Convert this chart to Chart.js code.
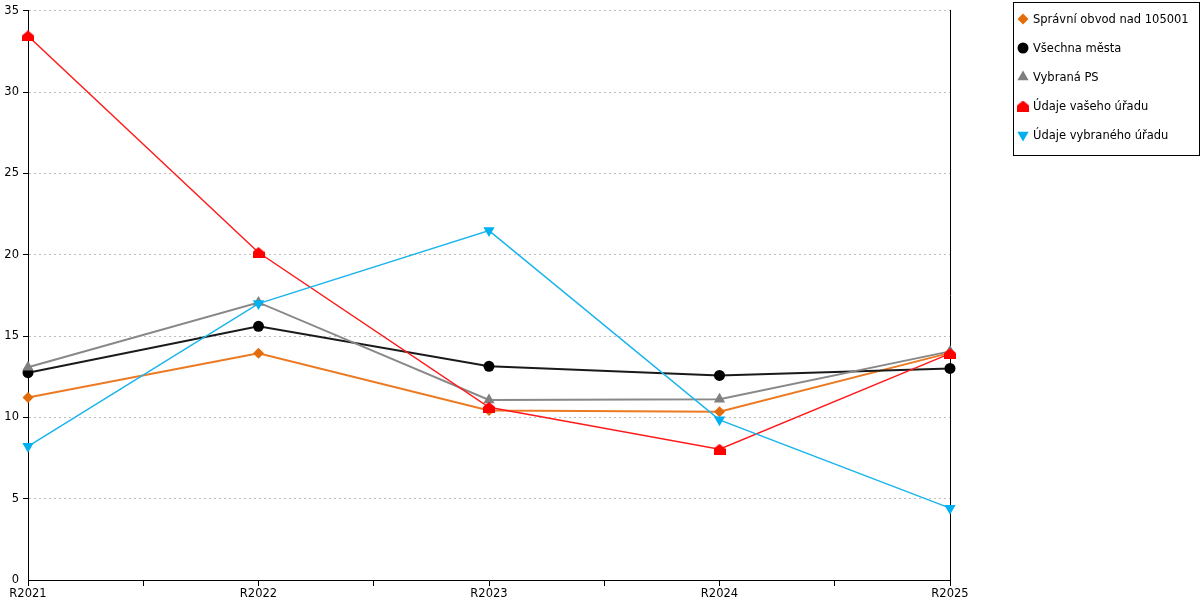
<!DOCTYPE html>
<html>
<head>
<meta charset="utf-8">
<script src="https://cdn.jsdelivr.net/npm/chart.js@4.4.0/dist/chart.umd.min.js"></script>
<style>
  body { margin: 0; background: #fff; }
  #wrap { width: 1200px; height: 600px; }
</style>
</head>
<body>
<div id="wrap"><canvas id="chart"></canvas></div>
<script>
const years = ['R2021', 'R2022', 'R2023', 'R2024', 'R2025'];
const yTicks = [0, 5, 10, 15, 20, 25, 30, 35];

const spravniObvod = [11.23, 13.94, 10.43, 10.35, 13.97];
const vsechnaMesta = [12.75, 15.6, 13.14, 12.58, 13.01];
const vybranaPS = [13.08, 17.07, 11.07, 11.12, 14.06];
const udajeVasehoUradu = [33.46, 20.14, 10.62, 8.04, 13.92];
const udajeVybranehoUradu = [8.22, 17.0, 21.49, 9.85, 4.42];

const FONT = 'DejaVu Sans';
const FONT_SIZE = 11.5;

// red "house" marker
function houseMarker(color) {
    const c = document.createElement('canvas');
    c.width = 12;
    c.height = 11;
    const ctx = c.getContext('2d');
    ctx.fillStyle = color;
    ctx.beginPath();
    ctx.moveTo(6, 0);
    ctx.lineTo(12, 5);
    ctx.lineTo(12, 11);
    ctx.lineTo(0, 11);
    ctx.lineTo(0, 5);
    ctx.closePath();
    ctx.fill();
    return c;
}

const toPoints = arr => arr.map((v, i) => ({ x: i, y: v }));

const datasets = [
    {
        label: 'Správní obvod nad 105001',
        data: toPoints(spravniObvod),
        borderColor: '#EC7A22',
        backgroundColor: '#E36C0A',
        pointStyle: 'rectRot',
        pointRadius: 5.5,
        borderWidth: 2
    },
    {
        label: 'Všechna města',
        data: toPoints(vsechnaMesta),
        borderColor: '#1a1a1a',
        backgroundColor: '#000000',
        pointStyle: 'circle',
        pointRadius: 5.5,
        borderWidth: 2
    },
    {
        label: 'Vybraná PS',
        data: toPoints(vybranaPS),
        borderColor: '#888888',
        backgroundColor: '#7f7f7f',
        pointStyle: 'triangle',
        pointRadius: 6.5,
        borderWidth: 2
    },
    {
        label: 'Údaje vašeho úřadu',
        data: toPoints(udajeVasehoUradu),
        borderColor: '#FF1a1a',
        backgroundColor: '#FF0000',
        pointStyle: houseMarker('#FF0000'),
        pointRadius: 6,
        borderWidth: 1.5
    },
    {
        label: 'Údaje vybraného úřadu',
        data: toPoints(udajeVybranehoUradu),
        borderColor: '#1BB4EC',
        backgroundColor: '#00B0F0',
        pointStyle: 'triangle',
        pointRotation: 180,
        pointRadius: 6.5,
        borderWidth: 1.5
    }
];

datasets.forEach((ds, i) => {
    ds.pointBorderWidth = 0;
    ds.pointBorderColor = ds.backgroundColor;
    ds.pointBackgroundColor = ds.backgroundColor;
    ds.tension = 0;
    ds.fill = false;
    ds.clip = false;
    ds.order = datasets.length - i; // later series drawn on top
});

// boxed legend at the top right
const boxLegend = {
    id: 'boxLegend',
    afterDraw(chart) {
        const ctx = chart.ctx;
        const x = 1013.5, y = 2.5, w = 186, h = 153;
        ctx.save();
        ctx.strokeStyle = '#000';
        ctx.lineWidth = 1;
        ctx.strokeRect(x, y, w, h);
        ctx.font = FONT_SIZE + 'px ' + FONT;
        ctx.textBaseline = 'middle';
        chart.data.datasets.forEach((ds, i) => {
            const cy = 19 + i * 29;
            ctx.fillStyle = ds.backgroundColor;
            ctx.strokeStyle = ds.backgroundColor;
            Chart.helpers.drawPoint(ctx, {
                pointStyle: ds.pointStyle,
                rotation: ds.pointRotation || 0,
                radius: ds.pointRadius,
                borderWidth: 0
            }, 1023, cy);
            ctx.fillStyle = '#000';
            ctx.fillText(ds.label, 1033, cy + 1);
        });
        ctx.restore();
    }
};

new Chart(document.getElementById('chart'), {
    type: 'line',
    data: { datasets: datasets },
    options: {
        responsive: true,
        maintainAspectRatio: false,
        animation: false,
        layout: { padding: { top: 10, right: 250, left: 0, bottom: 0 } },
        plugins: {
            legend: { display: false },
            tooltip: { enabled: false }
        },
        scales: {
            x: {
                type: 'linear',
                min: 0,
                max: years.length - 1,
                afterBuildTicks: scale => {
                    const t = [];
                    for (let v = 0; v <= years.length - 1; v += 0.5) t.push({ value: v });
                    scale.ticks = t;
                },
                afterFit: scale => { scale.height = 20; },
                grid: {
                    drawOnChartArea: false,
                    drawTicks: true,
                    tickLength: 6,
                    tickColor: '#000',
                    tickWidth: 1
                },
                border: { display: true, color: '#000', width: 1 },
                ticks: {
                    autoSkip: false,
                    maxRotation: 0,
                    padding: 1,
                    color: '#000',
                    font: { family: FONT, size: FONT_SIZE },
                    callback: v => Number.isInteger(v) ? years[v] : ''
                }
            },
            y: {
                min: 0,
                max: 35,
                afterBuildTicks: scale => {
                    scale.ticks = yTicks.map(v => ({ value: v }));
                },
                afterFit: scale => { scale.width = 28; },
                grid: {
                    color: '#bdbdbd',
                    tickColor: '#000',
                    tickLength: 5,
                    tickBorderDash: [],
                    lineWidth: ctx => ctx.tick.value === 0 ? 0 : 1
                },
                border: { display: true, color: '#000', width: 1, dash: [2, 3] },
                ticks: {
                    padding: 4,
                    color: '#000',
                    font: { family: FONT, size: FONT_SIZE }
                }
            },
            y2: {
                position: 'right',
                min: 0,
                max: 35,
                afterFit: scale => { scale.width = 0; },
                grid: { display: false },
                border: { display: true, color: '#000', width: 1 },
                ticks: { display: false }
            }
        }
    },
    plugins: [boxLegend]
});
</script>
</body>
</html>
